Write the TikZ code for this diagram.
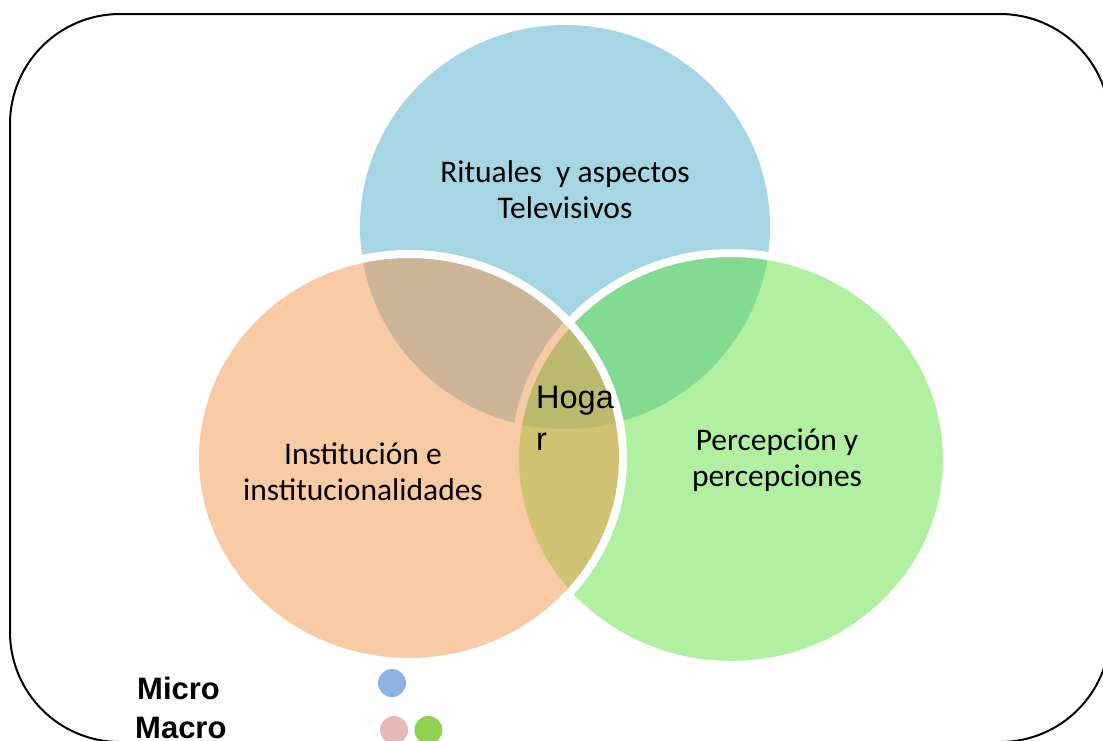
\documentclass[tikz,border=0pt]{standalone}
\usepackage{fontspec}
\setmainfont{Carlito}
\newfontfamily\arialfont{Liberation Sans}
\usetikzlibrary{positioning}

\definecolor{ritualblue}{RGB}{77,171,199}
\definecolor{percgreen}{RGB}{97,225,65}
\definecolor{instorange}{RGB}{243,151,75}
\definecolor{microblue}{RGB}{141,179,226}
\definecolor{macropink}{RGB}{230,185,184}
\definecolor{macrogreen}{RGB}{146,208,80}

\begin{document}
\begin{tikzpicture}[
    x = 1pt, y = -1pt,
    venn/.style = {fill opacity=0.5, draw=white, line width=8pt},
    lbl/.style = {font=\fontsize{31.5}{36}\selectfont, align=center},
    leg/.style = {font=\arialfont\bfseries\fontsize{31}{36}\selectfont,
        anchor=base west, inner sep=0pt},
    legdot/.style = {circle, minimum size=28pt, inner sep=0pt}
  ]
  \useasboundingbox (0,0) rectangle (1103,740);
  \clip (0,0) rectangle (1103,740);
  \draw[line width=2pt, rounded corners=110pt] (10,14) rectangle (1110,742);

  % the three sets
  \fill[ritualblue, fill opacity=0.5] (565,227) ellipse [x radius=205pt, y radius=202pt];
  \filldraw[venn, fill=percgreen] (731,459) ellipse [x radius=216pt, y radius=206pt];
  \filldraw[venn, fill=instorange] (409,458) ellipse [x radius=214pt, y radius=204pt];

  \node[lbl] (ritual) at (565,190) {Rituales\ \ y aspectos\\Televisivos};
  \node[lbl] (inst) at (363,472) {Institución e\\institucionalidades};
  \node[lbl] (perc) at (777,460) {Percepción y\\percepciones};
  \node[font=\arialfont\fontsize{32.5}{42}\selectfont, align=left,
        anchor=base west, inner sep=0pt] (hogar) at (536,450) {Hoga\\r};

  % legend
  \node[leg] (micro) at (137,699) {Micro};
  \node[leg] (macro) at (135,738) {Macro};
  \node[legdot, fill=microblue] (microdot) at (392,683) {};
  \node[legdot, fill=macropink] (macrodot) at (394,730) {};
  \node[legdot, fill=macrogreen, right=6pt of macrodot] (macrodot2) {};
\end{tikzpicture}
\end{document}
